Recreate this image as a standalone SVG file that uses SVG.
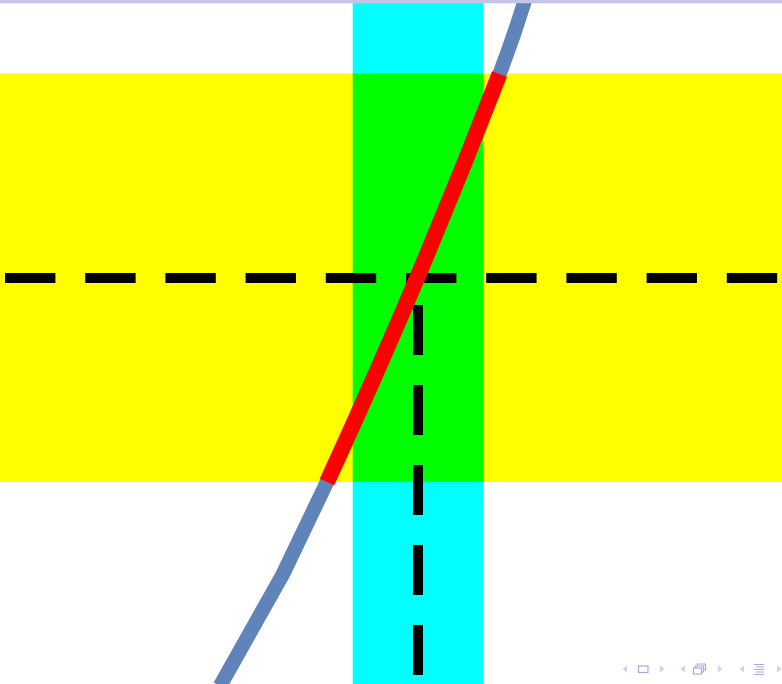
<svg xmlns="http://www.w3.org/2000/svg" width="782" height="684" viewBox="0 0 782 684">
  <style>
    .dash { stroke: #000000; stroke-width: 10; fill: none; }
    .nav-tri { fill: #d0d0f0; }
    .nav-ico { fill: none; stroke: #a9a9dc; stroke-width: 1.2; }
  </style>
  <rect x="0" y="0" width="782" height="684" fill="#ffffff"/>
  <g id="bands">
    <rect id="vertical-band" x="352.7" y="0" width="130.6" height="684" fill="#00ffff"/>
    <rect id="horizontal-band" x="0" y="73.3" width="782" height="408.7" fill="#ffff00"/>
    <rect id="overlap" x="352.7" y="73.3" width="130.6" height="408.7" fill="#00ff00"/>
  </g>
  <g id="connectors">
    <line id="h-dashed" class="dash" x1="5" y1="278" x2="782" y2="278" stroke-dasharray="50.4 29.8"/>
    <line id="v-dashed" class="dash" x1="418" y1="305" x2="418" y2="675" stroke-dasharray="50 30"/>
    <path id="curve" d="M525,0 Q513.7,37 499.5,74 Q421,278 327,482 L283,574 L220,686" fill="none" stroke="#6083b9" stroke-width="14.5" stroke-linejoin="round"/>
    <path id="curve-segment" d="M499.5,74 Q421,278 327,482" fill="none" stroke="#ff0000" stroke-width="16"/>
  </g>
  <rect id="top-bar" x="0" y="0" width="782" height="3.3" fill="#c4c4e6"/>
  <g id="navigation">
    <polygon class="nav-tri" points="627,665.5 627,672.5 622.5,669"/>
    <rect class="nav-ico" x="638.5" y="666" width="9.5" height="6.5"/>
    <polygon class="nav-tri" points="660,665.5 660,672.5 664.5,669"/>
    <polygon class="nav-tri" points="685,665.5 685,672.5 680.5,669"/>
    <rect class="nav-ico" x="693.5" y="668" width="8" height="6"/>
    <path class="nav-ico" d="M695.5,668 V666 H703.5 V672 H701.5 M697.5,666 V664 H705.5 V670 H703.5"/>
    <polygon class="nav-tri" points="718,665.5 718,672.5 722.5,669"/>
    <polygon class="nav-tri" points="744,665.5 744,672.5 739.5,669"/>
    <path class="nav-ico" d="M754,664.5 H764 M756,667 H764 M754,669.5 H764 M756,672 H764 M754,674.5 H764"/>
    <polygon class="nav-tri" points="777,665.5 777,672.5 781.5,669"/>
  </g>
</svg>
